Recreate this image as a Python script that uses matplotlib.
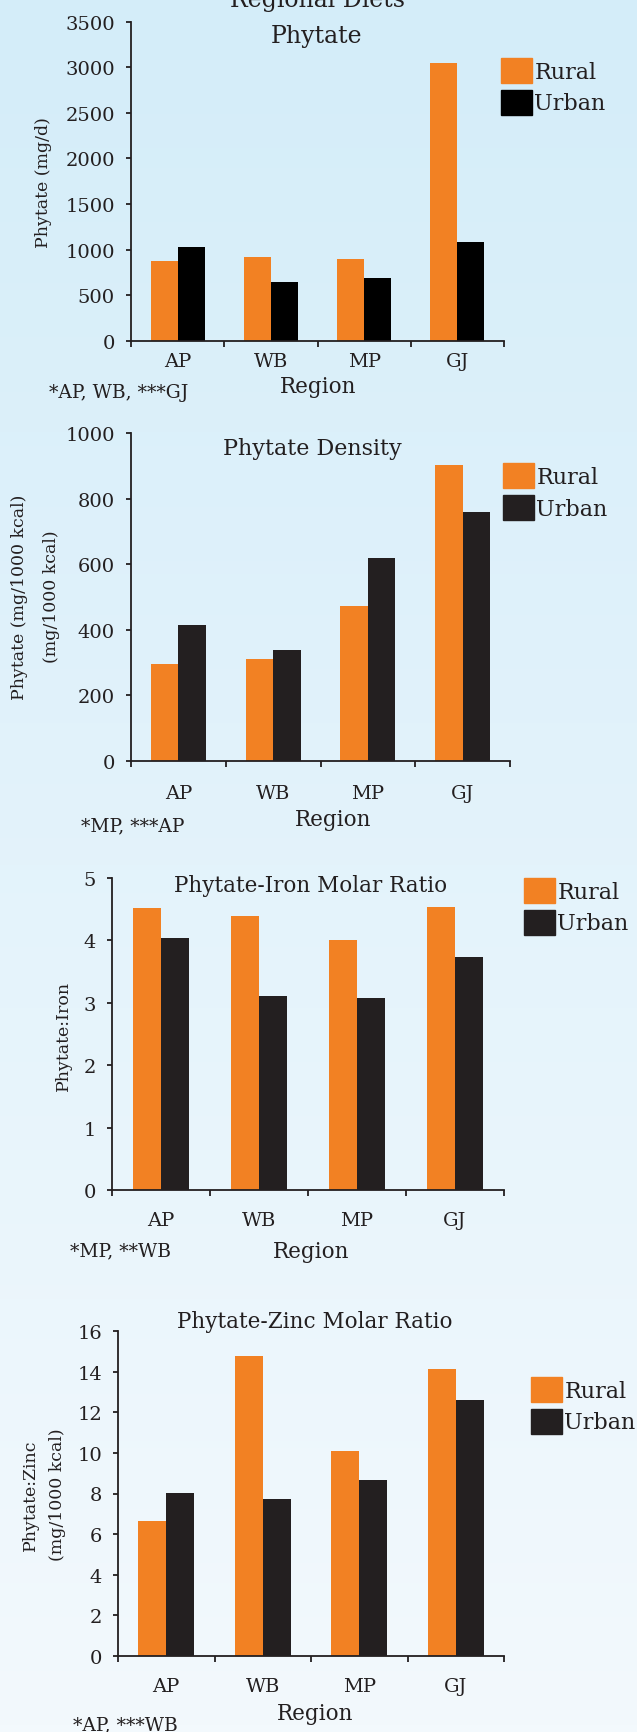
import numpy as np
import matplotlib.pyplot as plt
from matplotlib.colors import LinearSegmentedColormap
from matplotlib.patches import Patch

W, H = 637, 1733

regions = ["AP", "WB", "MP", "GJ"]

phytate_rural = [874, 918, 896, 3047]
phytate_urban = [1028, 644, 688, 1083]

density_rural = [296, 312, 473, 903]
density_urban = [415, 339, 619, 759]

iron_rural = [4.52, 4.39, 4.01, 4.54]
iron_urban = [4.04, 3.11, 3.08, 3.73]

zinc_rural = [6.64, 14.79, 10.10, 14.14]
zinc_urban = [8.03, 7.73, 8.67, 12.62]

ORANGE = "#F28123"
DARK = "#231F20"
TXT = "#231F20"

plt.rcParams["font.family"] = ["DejaVu Serif"]
plt.rcParams["text.color"] = TXT

fig = plt.figure(figsize=(W / 100, H / 100), dpi=100)

# background gradient, light blue at top fading to almost white
bg = fig.add_axes([0, 0, 1, 1], zorder=-10)
cmap = LinearSegmentedColormap.from_list("bg", ["#D4EDF9", "#F3F9FD"])
bg.imshow(np.linspace(0, 1, 256).reshape(-1, 1), aspect="auto", cmap=cmap,
          extent=[0, 1, 0, 1], origin="upper")
bg.axis("off")


def fx(x):
    return x / W


def fy(y):
    return 1 - y / H


# one dict per panel: pixel box of the plot area plus text placement
panels = [
    dict(rural=phytate_rural, urban=phytate_urban, urban_color="#000000",
         box=(131, 504, 22.7, 341.7), ymax=3500, step=500, xpad=8,
         titles=[("Regional Diets", 7.5, 17), ("Phytate", 43, 17)], title_x=317,
         ylabels=[("Phytate (mg/d)", 44)], ylab_y=183,
         legend=(501, 59), region=(318, 393), note=("*AP, WB, ***GJ", 49, 398)),
    dict(rural=density_rural, urban=density_urban, urban_color=DARK,
         box=(131, 510, 434, 762), ymax=1000, step=200, xpad=16.5,
         titles=[("Phytate Density", 455, 16)], title_x=312,
         ylabels=[("Phytate (mg/1000 kcal)", 20), ("(mg/1000 kcal)", 51)], ylab_y=597,
         legend=(503, 464), region=(333, 826), note=("*MP, ***AP", 81, 831)),
    dict(rural=iron_rural, urban=iron_urban, urban_color=DARK,
         box=(112, 504, 879, 1191), ymax=5, step=1, xpad=15,
         titles=[("Phytate-Iron Molar Ratio", 892, 15.5)], title_x=311,
         ylabels=[("Phytate:Iron", 63)], ylab_y=1036,
         legend=(524, 879), region=(311, 1258), note=("*MP, **WB", 70, 1256)),
    dict(rural=zinc_rural, urban=zinc_urban, urban_color=DARK,
         box=(118, 504, 1332, 1657), ymax=16, step=2, xpad=15,
         titles=[("Phytate-Zinc Molar Ratio", 1328, 15.5)], title_x=315,
         ylabels=[("Phytate:Zinc", 30), ("(mg/1000 kcal)", 58)], ylab_y=1495,
         legend=(531, 1378), region=(315, 1720), note=("*AP, ***WB", 73, 1730)),
]

x = np.arange(len(regions))
bw = 0.29

for p in panels:
    L, R, T, B = p["box"]
    ax = fig.add_axes([fx(L), fy(B), (R - L) / W, (B - T) / H])
    ax.patch.set_alpha(0)

    ax.bar(x - bw / 2, p["rural"], width=bw, color=ORANGE, label="Rural")
    ax.bar(x + bw / 2, p["urban"], width=bw, color=p["urban_color"], label="Urban")

    ax.set_xlim(-0.5, len(regions) - 0.5)
    ax.set_ylim(0, p["ymax"])
    ax.set_yticks(np.arange(0, p["ymax"] + p["step"] / 2, p["step"]))

    # category boundaries as major ticks, names on minor ticks
    ax.set_xticks(np.arange(-0.5, len(regions), 1.0))
    ax.set_xticklabels([])
    ax.set_xticks(x, minor=True)
    ax.set_xticklabels(regions, minor=True, fontsize=14, color=TXT)
    ax.tick_params(axis="x", which="minor", length=0, pad=p["xpad"])
    ax.tick_params(axis="x", which="major", length=4.5, width=1.3, color=DARK, direction="out")
    ax.tick_params(axis="y", length=3.6, width=1.3, color=DARK, direction="out",
                   pad=8, labelsize=14, labelcolor=TXT)

    for s in ["top", "right"]:
        ax.spines[s].set_visible(False)
    for s in ["left", "bottom"]:
        ax.spines[s].set_color(DARK)
        ax.spines[s].set_linewidth(1.3)

    for txt, yb, fs in p["titles"]:
        fig.text(fx(p["title_x"]), fy(yb), txt, ha="center", va="baseline", fontsize=fs)

    for txt, xc in p["ylabels"]:
        fig.text(fx(xc), fy(p["ylab_y"]), txt, rotation=90, ha="center", va="center",
                 fontsize=12.5)

    rx, ry = p["region"]
    fig.text(fx(rx), fy(ry), "Region", ha="center", va="baseline", fontsize=15.5)
    nt, nx, ny = p["note"]
    fig.text(fx(nx), fy(ny), nt, ha="left", va="baseline", fontsize=13.5)

    lx, ly = p["legend"]
    handles = [Patch(color=ORANGE, label="Rural"), Patch(color=p["urban_color"], label="Urban")]
    ax.legend(handles=handles, loc="upper left", bbox_to_anchor=(fx(lx), fy(ly)),
              bbox_transform=fig.transFigure, frameon=False, fontsize=16,
              handlelength=1.4, handleheight=1.35, handletextpad=0.1,
              labelspacing=0.3, borderpad=0, borderaxespad=0)

fig.savefig("out.png", dpi=100)
